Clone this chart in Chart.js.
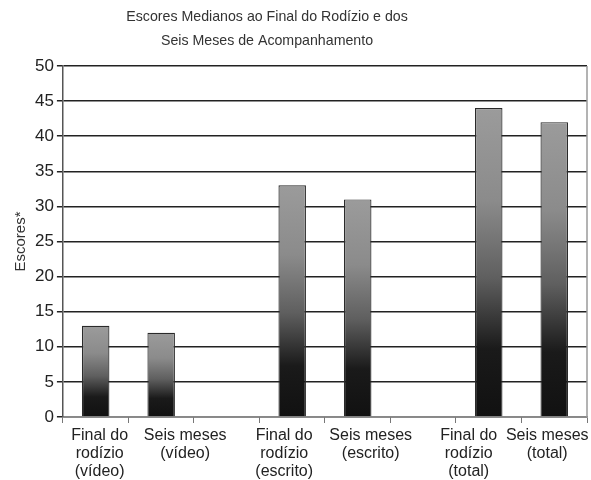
<!DOCTYPE html>
<html>
<head>
<meta charset="utf-8">
<script src="https://cdn.jsdelivr.net/npm/chart.js@4"></script>
<style>
  html, body { margin: 0; padding: 0; background: #fff; }
  #wrap { width: 591px; height: 480px; }
</style>
</head>
<body>
<div id="wrap"><canvas id="chart"></canvas></div>
<script>
var titleLines = ['Escores Medianos ao Final do Rodízio e dos', 'Seis Meses de Acompanhamento'];
var categories = [
    ['Final do', 'rodízio', '(vídeo)'],
    ['Seis meses', '(vídeo)'],
    '',
    ['Final do', 'rodízio', '(escrito)'],
    ['Seis meses', '(escrito)'],
    '',
    ['Final do', 'rodízio', '(total)'],
    ['Seis meses', '(total)']
];
var scores = [13, 12, null, 33, 31, null, 44, 42];
var yTicks = [0, 5, 10, 15, 20, 25, 30, 35, 40, 45, 50];

// the original spreads the category labels sideways so they don't collide
var labelNudge = [4, 24, 0, -8, 13, 0, -20, -7];

var font = "'Liberation Sans', Arial, sans-serif";

function barGradient(context) {
    var chart = context.chart;
    var area = chart.chartArea;
    if (!area) return '#888';
    var v = context.parsed ? context.parsed.y : null;
    if (v === null || v === undefined) return '#888';
    var yScale = chart.scales.y;
    var top = yScale.getPixelForValue(v);
    var bottom = yScale.getPixelForValue(0);
    var g = chart.ctx.createLinearGradient(0, top, 0, bottom);
    g.addColorStop(0, '#9b9b9b');
    g.addColorStop(0.3, '#8b8b8b');
    g.addColorStop(0.55, '#5f5f5f');
    g.addColorStop(0.78, '#1a1a1a');
    g.addColorStop(1, '#111111');
    return g;
}

var extras = {
    id: 'extras',
    afterDraw: function(chart) {
        var ctx = chart.ctx;
        var a = chart.chartArea;
        var xScale = chart.scales.x;
        ctx.save();
        // right border
        ctx.strokeStyle = '#9a9a9a';
        ctx.lineWidth = 1.5;
        ctx.beginPath();
        ctx.moveTo(a.right, a.top);
        ctx.lineTo(a.right, a.bottom);
        ctx.stroke();
        // title
        ctx.fillStyle = '#333';
        ctx.font = '14.2px ' + font;
        ctx.textAlign = 'center';
        ctx.textBaseline = 'middle';
        ctx.fillText(titleLines[0], 267, 17);
        ctx.fillText(titleLines[1], 267, 41);
        // category labels
        ctx.fillStyle = '#222';
        ctx.font = '16px ' + font;
        for (var i = 0; i < categories.length; i++) {
            var lines = [].concat(categories[i]);
            var x = xScale.getPixelForTick(i) + labelNudge[i];
            for (var j = 0; j < lines.length; j++) {
                ctx.fillText(lines[j], x, a.bottom + 19 + j * 18);
            }
        }
        ctx.restore();
    }
};

new Chart(document.getElementById('chart'), {
    type: 'bar',
    data: {
        labels: categories,
        datasets: [{
            data: scores,
            backgroundColor: barGradient,
            borderColor: '#2a2a2a',
            borderWidth: 1.2,
            barPercentage: 0.42,
            categoryPercentage: 1
        }]
    },
    options: {
        responsive: true,
        maintainAspectRatio: false,
        animation: false,
        layout: { padding: { top: 66, right: 4, left: 12, bottom: 57 } },
        plugins: {
            legend: { display: false },
            title: { display: false },
            tooltip: { enabled: false }
        },
        scales: {
            x: {
                grid: { display: true, drawOnChartArea: false, drawTicks: true, tickLength: 6, color: '#777', offset: true },
                border: { color: '#888', width: 1.5 },
                ticks: { display: false, autoSkip: false }
            },
            y: {
                min: 0,
                max: 50,
                afterBuildTicks: function(axis) {
                    axis.ticks = yTicks.map(function(v) { return { value: v }; });
                },
                grid: { color: '#222', lineWidth: 1.5, tickLength: 6 },
                border: { color: '#555', width: 1.5 },
                ticks: {
                    color: '#222',
                    font: { family: font, size: 17 },
                    padding: 3
                },
                title: {
                    display: true,
                    text: 'Escores*',
                    color: '#333',
                    font: { family: font, size: 15 },
                    padding: { top: 0, bottom: 2 }
                }
            }
        }
    },
    plugins: [extras]
});
</script>
</body>
</html>
